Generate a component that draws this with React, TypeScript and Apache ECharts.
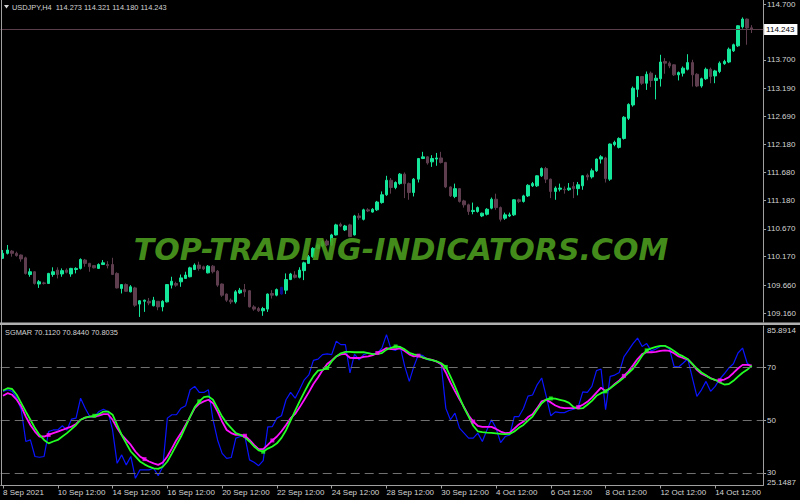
import React, { useEffect, useRef } from 'react';
import * as echarts from 'echarts';

const symbolName = 'USDJPY,H4';
const indicatorName = 'SGMAR';
const watermark = 'TOP-TRADING-INDICATORS.COM';

const tradingDays = ['8 Sep', '9 Sep', '10 Sep', '13 Sep', '14 Sep', '15 Sep', '16 Sep', '17 Sep', '20 Sep', '21 Sep', '22 Sep', '23 Sep', '24 Sep', '27 Sep', '28 Sep', '29 Sep', '30 Sep', '1 Oct', '4 Oct', '5 Oct', '6 Oct', '7 Oct', '8 Oct', '11 Oct', '12 Oct', '13 Oct', '14 Oct', '15 Oct'];
const barHours = ['00:00', '04:00', '08:00', '12:00', '16:00', '20:00'];
const timeTicks = ['8 Sep 2021', '10 Sep 12:00', '14 Sep 12:00', '16 Sep 12:00', '20 Sep 12:00', '22 Sep 12:00', '24 Sep 12:00', '28 Sep 12:00', '30 Sep 12:00', '4 Oct 12:00', '6 Oct 12:00', '8 Oct 12:00', '12 Oct 12:00', '14 Oct 12:00'];

const opens = [
  110.14, 110.23, 110.27, 110.23, 110.20, 110.15, 109.85, 109.90, 109.68, 109.70,
  109.69, 109.85, 109.93, 109.86, 109.93, 109.86, 109.94, 109.96, 110.11, 110.05,
  110.01, 109.96, 110.03, 110.03, 110.03, 109.87, 109.60, 109.67, 109.54, 109.61,
  109.32, 109.37, 109.37, 109.29, 109.37, 109.27, 109.36, 109.66, 109.69, 109.72,
  109.78, 109.81, 109.94, 110.02, 109.99, 109.88, 110.00, 109.91, 109.68, 109.50,
  109.39, 109.36, 109.52, 109.58, 109.56, 109.27, 109.24, 109.20, 109.23, 109.51,
  109.48, 109.50, 109.57, 109.76, 109.84, 109.80, 109.92, 110.05, 110.17, 110.32,
  110.36, 110.45, 110.38, 110.56, 110.75, 110.65, 110.74, 110.56, 110.90, 110.84,
  111.01, 110.97, 111.01, 111.14, 111.28, 111.54, 111.41, 111.48, 111.65, 111.48,
  111.32, 111.56, 111.93, 111.96, 111.87, 111.92, 111.94, 111.86, 111.42, 111.25,
  111.39, 111.17, 111.10, 110.98, 110.98, 110.90, 110.93, 111.04, 111.20, 111.05,
  110.86, 110.90, 110.92, 111.19, 111.16, 111.26, 111.44, 111.44, 111.62, 111.75,
  111.56, 111.34, 111.38, 111.38, 111.37, 111.43, 111.39, 111.44, 111.63, 111.60,
  111.71, 111.92, 111.94, 111.56, 112.18, 112.13, 112.29, 112.65, 112.89, 113.17,
  113.40, 113.28, 113.46, 113.33, 113.36, 113.67, 113.64, 113.61, 113.43, 113.46,
  113.53, 113.65, 113.44, 113.23, 113.36, 113.53, 113.41, 113.49, 113.63, 113.66,
  113.86, 113.95, 114.29, 114.43, 114.273,
];
const closes = [
  110.23, 110.29, 110.23, 110.19, 110.13, 109.87, 109.90, 109.69, 109.72, 109.69,
  109.87, 109.90, 109.85, 109.92, 109.89, 109.96, 109.96, 110.12, 110.05, 109.99,
  109.97, 110.03, 110.06, 110.01, 109.85, 109.61, 109.67, 109.55, 109.63, 109.30,
  109.38, 109.39, 109.34, 109.39, 109.27, 109.37, 109.67, 109.73, 109.66, 109.79,
  109.84, 109.97, 110.02, 109.96, 109.95, 110.00, 109.90, 109.66, 109.48, 109.39,
  109.36, 109.54, 109.57, 109.54, 109.27, 109.23, 109.20, 109.24, 109.50, 109.48,
  109.58, 109.62, 109.76, 109.86, 109.80, 109.93, 110.06, 110.17, 110.32, 110.38,
  110.44, 110.38, 110.56, 110.74, 110.72, 110.72, 110.53, 110.90, 110.87, 111.01,
  110.99, 111.02, 111.15, 111.28, 111.54, 111.41, 111.50, 111.65, 111.48, 111.32,
  111.56, 111.93, 111.96, 111.85, 111.93, 111.94, 111.86, 111.42, 111.26, 111.39,
  111.16, 111.10, 110.98, 111.00, 111.05, 110.95, 111.02, 111.20, 111.05, 110.84,
  110.92, 110.92, 111.19, 111.16, 111.26, 111.45, 111.48, 111.62, 111.75, 111.56,
  111.34, 111.40, 111.40, 111.37, 111.40, 111.39, 111.46, 111.62, 111.60, 111.71,
  111.92, 111.96, 111.57, 112.19, 112.22, 112.29, 112.67, 112.90, 113.19, 113.40,
  113.28, 113.44, 113.33, 113.37, 113.66, 113.64, 113.59, 113.43, 113.47, 113.55,
  113.65, 113.43, 113.23, 113.36, 113.53, 113.40, 113.50, 113.64, 113.67, 113.89,
  113.97, 114.31, 114.43, 114.27, 114.243,
];
const highs = [
  110.29, 110.38, 110.29, 110.26, 110.21, 110.17, 109.96, 109.91, 109.75, 109.72,
  109.88, 109.98, 109.98, 109.96, 109.96, 109.97, 109.98, 110.14, 110.13, 110.06,
  110.02, 110.05, 110.11, 110.09, 110.15, 109.89, 109.68, 109.69, 109.66, 109.63,
  109.39, 109.40, 109.43, 109.45, 109.37, 109.39, 109.68, 109.81, 109.72, 109.85,
  109.90, 109.99, 110.05, 110.08, 110.01, 110.02, 110.02, 109.93, 109.69, 109.51,
  109.42, 109.57, 109.61, 109.68, 109.57, 109.30, 109.27, 109.27, 109.51, 109.57,
  109.60, 109.63, 109.87, 109.88, 109.91, 109.98, 110.08, 110.20, 110.34, 110.40,
  110.47, 110.48, 110.58, 110.76, 110.78, 110.74, 110.76, 110.92, 110.95, 111.03,
  111.04, 111.04, 111.17, 111.34, 111.62, 111.58, 111.52, 111.67, 111.68, 111.50,
  111.58, 111.94, 112.05, 111.97, 111.99, 112.03, 112.05, 111.87, 111.43, 111.48,
  111.40, 111.19, 111.12, 111.14, 111.07, 110.96, 111.04, 111.23, 111.30, 111.07,
  110.96, 110.96, 111.20, 111.21, 111.28, 111.47, 111.51, 111.63, 111.77, 111.78,
  111.57, 111.43, 111.48, 111.43, 111.49, 111.51, 111.51, 111.63, 111.66, 111.75,
  111.93, 111.99, 111.96, 112.20, 112.25, 112.31, 112.69, 112.92, 113.22, 113.41,
  113.41, 113.49, 113.49, 113.43, 113.79, 113.73, 113.67, 113.62, 113.49, 113.58,
  113.80, 113.70, 113.46, 113.38, 113.56, 113.56, 113.52, 113.67, 113.70, 113.92,
  113.99, 114.32, 114.46, 114.44, 114.321,
];
const lows = [
  110.13, 110.21, 110.17, 110.17, 110.08, 109.85, 109.81, 109.67, 109.61, 109.67,
  109.68, 109.81, 109.78, 109.81, 109.87, 109.81, 109.87, 109.94, 109.99, 109.90,
  109.96, 109.95, 110.02, 109.96, 109.85, 109.60, 109.51, 109.54, 109.53, 109.27,
  109.09, 109.18, 109.30, 109.28, 109.21, 109.19, 109.35, 109.60, 109.63, 109.63,
  109.77, 109.80, 109.93, 109.92, 109.93, 109.87, 109.87, 109.63, 109.45, 109.36,
  109.32, 109.33, 109.50, 109.45, 109.26, 109.20, 109.18, 109.11, 109.18, 109.42,
  109.46, 109.49, 109.50, 109.75, 109.78, 109.78, 109.75, 110.04, 110.15, 110.30,
  110.34, 110.36, 110.36, 110.55, 110.70, 110.63, 110.52, 110.55, 110.83, 110.82,
  110.97, 110.96, 110.99, 111.12, 111.26, 111.30, 111.38, 111.46, 111.22, 111.19,
  111.25, 111.50, 111.92, 111.82, 111.78, 111.80, 111.84, 111.40, 111.24, 111.22,
  111.14, 111.05, 110.92, 110.93, 110.96, 110.88, 110.91, 111.02, 111.01, 110.80,
  110.83, 110.88, 110.90, 111.13, 111.14, 111.24, 111.42, 111.42, 111.60, 111.49,
  111.22, 111.19, 111.34, 111.30, 111.35, 111.22, 111.27, 111.37, 111.54, 111.57,
  111.69, 111.84, 111.50, 111.53, 112.15, 112.11, 112.27, 112.62, 112.86, 113.03,
  113.25, 113.16, 113.21, 112.99, 113.22, 113.45, 113.55, 113.41, 113.33, 113.40,
  113.51, 113.22, 113.21, 113.20, 113.34, 113.28, 113.28, 113.46, 113.61, 113.64,
  113.84, 113.93, 114.26, 113.97, 114.180,
];
const navyBars = [61];

const priceTicks = [114.7, 113.7, 113.19, 112.69, 112.18, 111.68, 111.18, 110.67, 110.17, 109.66, 109.16];
const priceMin = 108.999;
const priceMax = 114.772;

const rsiBlue = [
  61.0, 61.6, 61.0, 58.4, 54.0, 41.9, 42.5, 36.2, 35.9, 36.2,
  45.7, 46.3, 46.3, 47.9, 46.3, 50.4, 50.8, 58.4, 54.6, 51.4,
  51.4, 53.3, 54.2, 53.3, 46.3, 33.6, 36.8, 33.0, 36.2, 27.9,
  31.1, 31.1, 31.1, 31.7, 28.9, 32.3, 50.8, 52.1, 52.1, 54.6,
  55.5, 61.6, 62.9, 60.6, 60.6, 61.6, 50.2, 42.5, 37.4, 35.5,
  35.8, 43.2, 43.8, 43.8, 34.9, 34.0, 32.7, 34.6, 47.5, 47.6,
  50.8, 51.7, 57.8, 60.6, 58.4, 61.8, 65.4, 67.3, 72.8, 73.3,
  75.0, 75.3, 75.0, 80.1, 78.8, 78.8, 68.0, 75.2, 73.0, 75.0,
  75.6, 75.3, 75.6, 77.5, 82.6, 77.1, 76.6, 78.1, 70.5, 64.8,
  70.5, 75.0, 74.6, 73.1, 72.8, 72.4, 71.1, 54.6, 50.2, 52.7,
  47.0, 45.1, 43.2, 43.2, 45.1, 41.9, 46.3, 50.2, 47.0, 41.5,
  43.8, 44.4, 51.4, 51.4, 54.5, 59.2, 59.6, 63.5, 66.1, 59.1,
  51.7, 53.2, 52.9, 52.9, 53.7, 54.2, 55.0, 60.8, 60.6, 62.9,
  68.9, 69.5, 54.0, 66.7, 67.2, 68.2, 74.1, 76.6, 79.2, 81.3,
  78.1, 79.2, 76.4, 77.1, 78.1, 78.4, 77.1, 70.5, 70.3, 71.8,
  73.4, 66.1, 59.1, 61.6, 64.8, 61.0, 62.9, 65.7, 67.7, 69.9,
  71.5, 75.6, 77.5, 71.8, 70.112,
];
const maMagenta = [
  59.3, 60.3, 59.7, 57.8, 55.2, 51.4, 48.2, 45.7, 43.8, 43.8,
  44.4, 45.1, 45.7, 46.3, 47.0, 47.6, 48.6, 50.2, 51.0, 51.4,
  51.4, 51.8, 52.3, 52.3, 50.2, 47.0, 44.4, 42.5, 40.6, 38.1,
  36.2, 35.2, 34.3, 33.6, 33.0, 33.9, 36.2, 39.3, 42.5, 45.1,
  48.2, 51.4, 54.6, 56.3, 57.2, 57.8, 56.5, 53.3, 49.5, 46.3,
  45.1, 44.4, 44.4, 44.1, 42.5, 40.6, 39.0, 39.0, 40.6, 42.3,
  43.8, 45.8, 48.2, 50.8, 52.4, 55.0, 57.8, 60.7, 63.8, 66.3,
  69.0, 71.4, 72.8, 74.3, 75.1, 75.3, 73.8, 73.7, 73.7, 74.1,
  74.3, 74.8, 75.6, 76.5, 77.5, 77.1, 77.1, 77.4, 76.4, 75.1,
  74.3, 74.6, 73.8, 73.4, 73.0, 72.3, 71.3, 68.2, 64.4, 61.1,
  58.0, 55.0, 51.8, 49.5, 47.9, 47.5, 47.5, 47.5, 46.7, 45.7,
  45.1, 45.3, 46.8, 48.4, 49.5, 51.2, 52.3, 54.6, 57.2, 57.8,
  56.8, 55.6, 54.9, 54.6, 54.6, 54.6, 55.0, 55.9, 57.0, 58.6,
  60.5, 62.4, 61.1, 62.2, 63.8, 65.2, 66.9, 68.6, 70.9, 73.3,
  75.2, 75.9, 75.9, 76.0, 76.4, 76.6, 76.4, 75.5, 74.3, 73.7,
  73.2, 71.4, 69.2, 67.7, 66.9, 66.1, 65.3, 65.2, 65.5, 66.4,
  68.0, 69.7, 71.1, 71.1, 70.844,
];
const maGreen = [
  61.3, 62.2, 61.9, 59.7, 56.5, 53.3, 50.2, 47.0, 44.4, 42.5,
  41.2, 41.9, 42.5, 43.8, 45.1, 46.6, 48.2, 50.2, 51.0, 51.4,
  51.7, 52.3, 53.3, 53.3, 52.1, 48.2, 44.4, 41.2, 38.1, 36.2,
  34.3, 33.2, 32.3, 31.7, 31.5, 32.3, 34.3, 37.4, 40.6, 43.8,
  47.6, 51.4, 55.0, 57.2, 58.8, 59.1, 57.8, 54.6, 51.4, 48.9,
  47.0, 45.1, 44.4, 43.5, 41.9, 40.0, 38.5, 38.0, 39.2, 40.0,
  41.2, 43.3, 46.2, 49.9, 53.7, 57.3, 60.7, 64.0, 66.8, 68.9,
  69.2, 69.9, 72.4, 74.3, 75.5, 76.0, 76.0, 75.9, 75.9, 75.9,
  75.6, 75.2, 75.3, 75.6, 76.9, 77.6, 78.1, 77.9, 77.0, 75.7,
  75.1, 74.7, 73.9, 73.3, 72.9, 72.4, 71.7, 70.3, 66.7, 62.9,
  58.7, 54.7, 51.4, 47.9, 45.8, 45.5, 45.3, 45.2, 45.0, 44.8,
  44.7, 44.8, 45.7, 47.1, 48.2, 49.9, 51.4, 54.0, 56.5, 57.9,
  58.3, 58.2, 57.8, 57.4, 56.6, 55.0, 54.4, 54.6, 55.9, 57.4,
  59.3, 60.3, 61.0, 62.2, 63.5, 64.8, 66.3, 68.0, 69.6, 71.9,
  74.6, 76.6, 77.4, 77.9, 78.3, 78.3, 77.5, 76.4, 75.1, 74.3,
  73.3, 71.5, 69.7, 68.2, 67.1, 65.9, 65.4, 64.4, 63.6, 63.8,
  65.0, 66.6, 68.1, 69.2, 70.8035,
];
const magentaDotBars = [10, 31, 53, 59, 82, 91, 103, 126, 136, 157];
const greenDotBars = [20, 43, 57, 71, 86, 97, 120, 132, 141];
const levels = [70, 50, 30];
const subMin = 25.1487;
const subMax = 85.8914;

const BULL = '#14E69A';
const BEAR = '#5E3D4F';
const NAVY = '#0A0A8C';
const TXT = '#D4D4D4';
const FRAME = '#A0A0A0';
const FONT = '"Liberation Sans", Arial, sans-serif';

const categories: string[] = [];
tradingDays.forEach((d, k) => {
  barHours.forEach((h, j) => {
    if (k === 0 && j < 3) return;
    categories.push(`${d} ${h}`);
  });
});
categories.push('', '');

export default function App() {
  const ref = useRef<HTMLDivElement>(null);
  useEffect(() => {
    if (!ref.current) return;
    const chart = echarts.init(ref.current, undefined, { renderer: 'svg' });
    const n = opens.length;
    const candleData = opens.map((o, i) => {
      const v = [o, closes[i], lows[i], highs[i]];
      if (navyBars.includes(i)) {
        return { value: v, itemStyle: { color: NAVY, borderColor: NAVY, color0: NAVY, borderColor0: NAVY } };
      }
      return v;
    });
    const last = n - 1;
    const lastClose = closes[last];
    const header = `${symbolName}  ${opens[last].toFixed(3)} ${highs[last].toFixed(3)} ${lows[last].toFixed(3)} ${lastClose.toFixed(3)}`;
    const subHeader = `${indicatorName} ${rsiBlue[last].toFixed(4)} ${maMagenta[last].toFixed(4)} ${maGreen[last].toFixed(4)}`;
    const tickShown = (i: number) => i % 12 === 0 && i / 12 < timeTicks.length;

    const option: any = {
      animation: false,
      backgroundColor: '#000000',
      grid: [
        { left: 0.4, top: 0, width: 762.7, height: 322 },
        { left: 0.4, top: 326, width: 762.7, height: 159.5 },
      ],
      xAxis: [
        {
          type: 'category', gridIndex: 0, data: categories, boundaryGap: true,
          axisLine: { show: false }, axisTick: { show: false }, axisLabel: { show: false }, splitLine: { show: false },
        },
        {
          type: 'category', gridIndex: 1, data: categories, boundaryGap: true,
          axisLine: { show: true, lineStyle: { color: FRAME, width: 1 } },
          axisTick: { show: true, alignWithLabel: true, interval: (i: number) => tickShown(i), length: 3, lineStyle: { color: FRAME } },
          axisLabel: {
            show: true, interval: (i: number) => tickShown(i),
            formatter: (_v: string, i: number) => timeTicks[i / 12] ?? '',
            align: 'left', color: TXT, fontSize: 8, fontFamily: FONT, margin: 3,
          },
          splitLine: { show: false },
        },
      ],
      yAxis: [
        {
          type: 'value', gridIndex: 0, position: 'right', min: priceMin, max: priceMax, scale: true,
          axisLine: { show: true, lineStyle: { color: FRAME } },
          axisTick: { show: true, customValues: priceTicks, length: 3, lineStyle: { color: FRAME } },
          axisLabel: { customValues: priceTicks, formatter: (v: number) => v.toFixed(3), color: TXT, fontSize: 8, fontFamily: FONT, margin: 4 },
          splitLine: { show: false },
        },
        {
          type: 'value', gridIndex: 1, position: 'right', min: subMin, max: subMax,
          axisLine: { show: true, lineStyle: { color: FRAME } },
          axisTick: { show: true, customValues: levels, length: 3, lineStyle: { color: FRAME } },
          axisLabel: { customValues: levels, formatter: (v: number) => String(v), color: TXT, fontSize: 8, fontFamily: FONT, margin: 4 },
          splitLine: { show: false },
        },
      ],
      series: [
        {
          type: 'candlestick', xAxisIndex: 0, yAxisIndex: 0, data: candleData, barWidth: 3,
          itemStyle: { color: BULL, color0: BEAR, borderColor: BULL, borderColor0: BEAR, borderWidth: 1 },
          markLine: {
            silent: true, symbol: 'none', precision: 3,
            lineStyle: { color: '#5A3E4A', width: 1, type: 'solid' },
            label: {
              show: true, position: 'end', distance: 1,
              formatter: () => lastClose.toFixed(3),
              backgroundColor: '#FFFFFF', color: '#000000', fontSize: 8, fontFamily: FONT, padding: [2, 3, 1, 2],
            },
            data: [{ yAxis: lastClose }],
          },
        },
        {
          type: 'line', xAxisIndex: 1, yAxisIndex: 1, data: rsiBlue, symbol: 'none',
          lineStyle: { color: '#0A14FF', width: 1.2 },
          markLine: {
            silent: true, symbol: 'none', label: { show: false },
            lineStyle: { color: '#707070', width: 1, type: [9, 5] },
            data: levels.map((v) => ({ yAxis: v })),
          },
          z: 2,
        },
        {
          type: 'line', xAxisIndex: 1, yAxisIndex: 1, data: maMagenta, symbol: 'none',
          lineStyle: { color: '#FF10FF', width: 1.8 }, z: 3,
        },
        {
          type: 'line', xAxisIndex: 1, yAxisIndex: 1, data: maGreen, symbol: 'none',
          lineStyle: { color: '#22FF22', width: 1.8 }, z: 4,
        },
        {
          type: 'scatter', xAxisIndex: 1, yAxisIndex: 1, symbol: 'rect', symbolSize: 4,
          itemStyle: { color: '#FF10FF' }, z: 5,
          data: magentaDotBars.map((i) => [i, maMagenta[i]]),
        },
        {
          type: 'scatter', xAxisIndex: 1, yAxisIndex: 1, symbol: 'rect', symbolSize: 4,
          itemStyle: { color: '#22FF22' }, z: 5,
          data: greenDotBars.map((i) => [i, maGreen[i]]),
        },
      ],
      graphic: [
        { type: 'rect', left: 1, top: 0, shape: { width: 1, height: 486 }, style: { fill: FRAME }, z: 10 },
        { type: 'rect', left: 0, top: 322.5, shape: { width: 800, height: 2.5 }, style: { fill: '#B0B0B0' }, z: 10 },
        { type: 'polygon', shape: { points: [[4, 5], [9, 5], [6.5, 8.5]] }, style: { fill: TXT }, z: 10 },
        { type: 'text', x: 12, y: 7, style: { text: header, fill: TXT, font: `7.4px ${FONT}`, verticalAlign: 'middle' }, z: 10 },
        { type: 'text', x: 5, y: 332, style: { text: subHeader, fill: TXT, font: `7.4px ${FONT}`, verticalAlign: 'middle' }, z: 10 },
        { type: 'text', x: 767, y: 330, style: { text: subMax.toFixed(4), fill: TXT, font: `8px ${FONT}`, verticalAlign: 'middle' }, z: 10 },
        { type: 'text', x: 767, y: 482, style: { text: subMin.toFixed(4), fill: TXT, font: `8px ${FONT}`, verticalAlign: 'middle' }, z: 10 },
        {
          type: 'text', x: 401, y: 249, z: 100,
          style: {
            text: watermark, fill: '#4B9B1E', opacity: 0.92,
            font: 'italic bold 30px "DejaVu Sans", sans-serif', align: 'center', verticalAlign: 'middle',
          },
        },
      ],
    };
    chart.setOption(option);
    return () => chart.dispose();
  }, []);
  return <div ref={ref} style={{ position: 'fixed', left: 0, top: 0, width: 800, height: 500 }} />;
}
